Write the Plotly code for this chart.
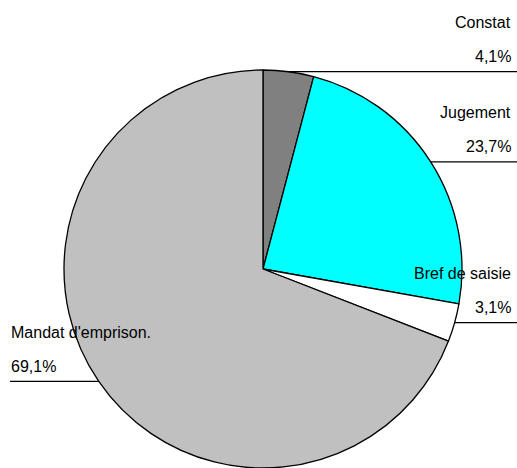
import math
import plotly.graph_objects as go

labels = ["Constat", "Jugement", "Bref de saisie", "Mandat d'emprison."]
values = [4.1, 23.7, 3.1, 69.1]
pct_text = ["4,1%", "23,7%", "3,1%", "69,1%"]
colors = ["#808080", "#00FFFF", "#FFFFFF", "#C0C0C0"]

W, H = 517, 468
cx, cy, r = 263, 269, 199  # pixel geometry of pie

fig = go.Figure(go.Pie(
    labels=labels, values=values, sort=False, direction="clockwise", rotation=0,
    marker=dict(colors=colors, line=dict(color="black", width=1.3)),
    textinfo="none", hoverinfo="label+percent", showlegend=False,
    domain=dict(x=[(cx - r) / W, (cx + r) / W], y=[(H - cy - r) / H, (H - cy + r) / H]),
))

shapes, annotations = [], []
total = sum(values)
cum = 0
font = dict(family="Arial, Liberation Sans", size=16, color="black")
for i, v in enumerate(values):
    mid = (cum + v / 2) / total * 2 * math.pi
    cum += v
    px = cx + r * math.sin(mid)
    py = cy - r * math.cos(mid)
    right = math.sin(mid) >= 0
    x_end = W if right else 10
    shapes.append(dict(type="line", xref="paper", yref="paper",
                       x0=px / W, x1=x_end / W, y0=1 - py / H, y1=1 - py / H,
                       line=dict(color="black", width=1.2)))
    tx = 513 if right else 9
    anchor = "right" if right else "left"
    annotations.append(dict(xref="paper", yref="paper", x=tx / W, y=1 - (py - 15) / H,
                            text=pct_text[i], showarrow=False, xanchor=anchor,
                            yanchor="middle", font=font))
    annotations.append(dict(xref="paper", yref="paper", x=tx / W, y=1 - (py - 49) / H,
                            text=labels[i], showarrow=False, xanchor=anchor,
                            yanchor="middle", font=font))

fig.update_layout(width=W, height=H, margin=dict(l=0, r=0, t=0, b=0),
                  paper_bgcolor="white", plot_bgcolor="white",
                  shapes=shapes, annotations=annotations)
fig.write_html("out.html")
